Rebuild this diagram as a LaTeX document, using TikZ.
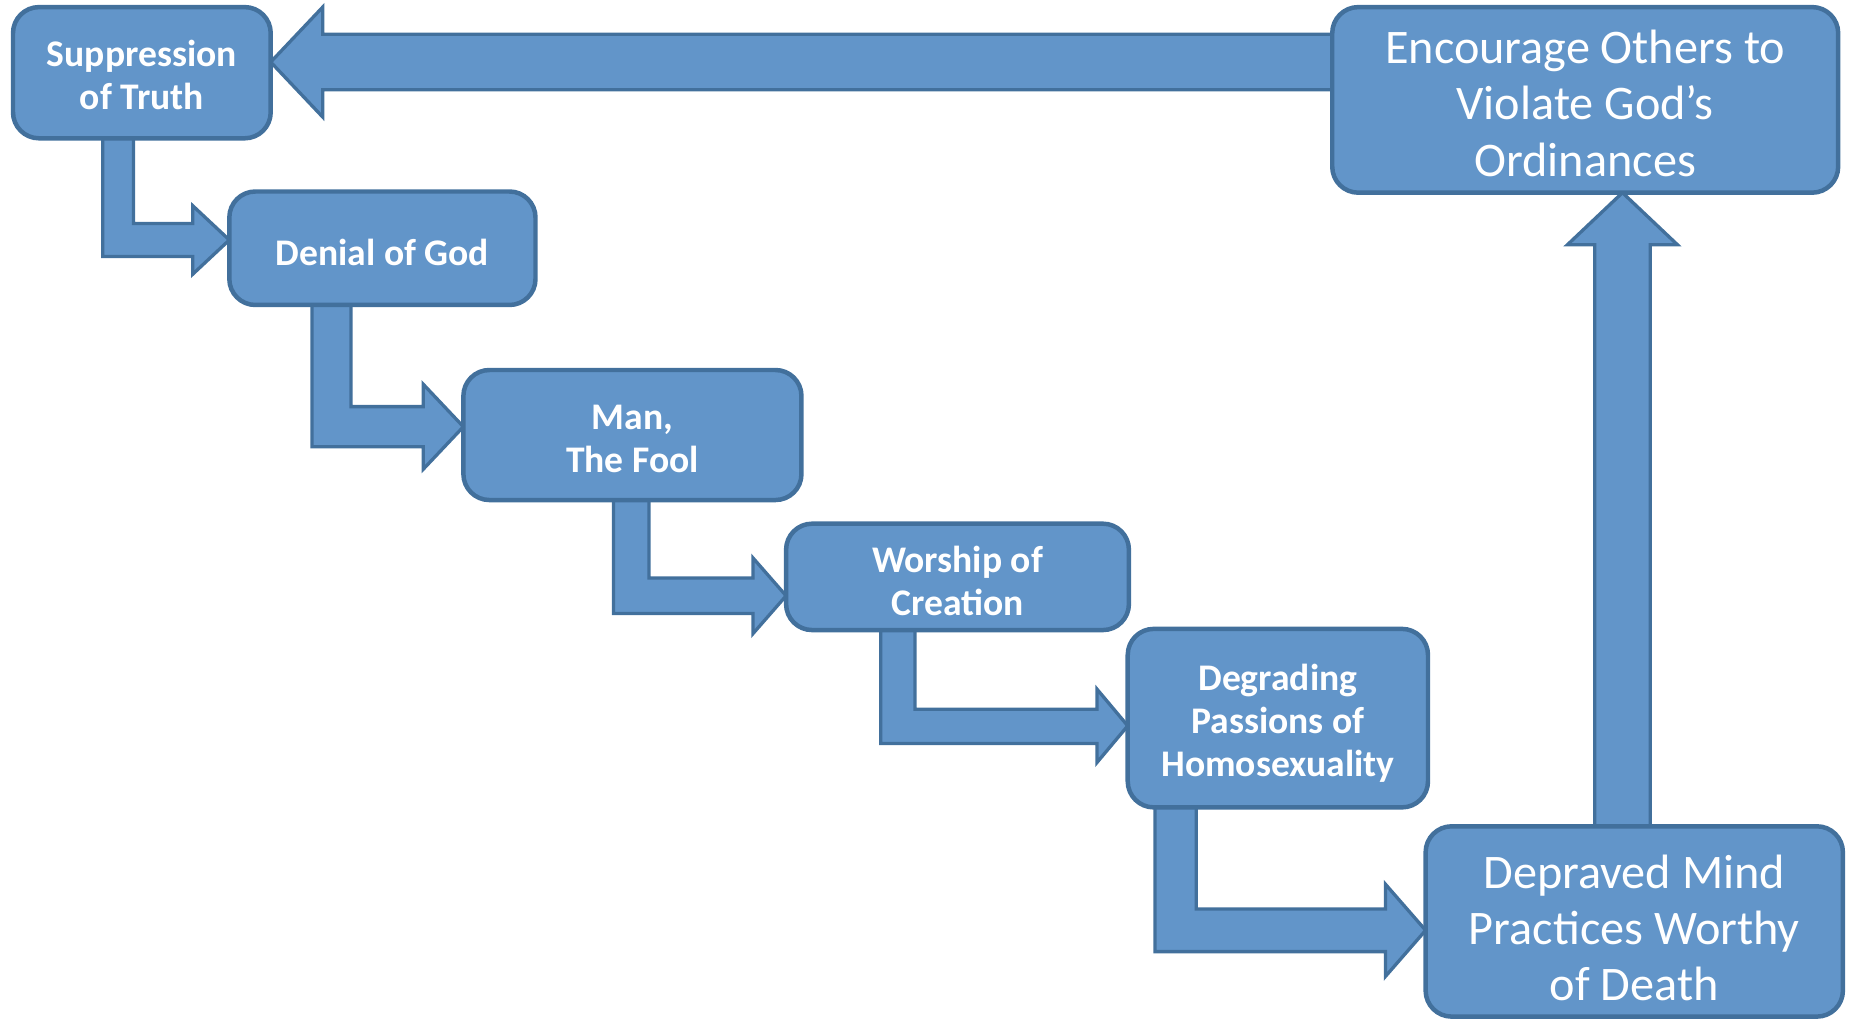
\documentclass[tikz,border=0pt]{standalone}
\usepackage{fontspec}
\setmainfont{Carlito}
\usetikzlibrary{backgrounds}
\definecolor{boxfill}{RGB}{98,149,201}
\definecolor{boxline}{RGB}{66,112,156}
\tikzset{
  x=0.5pt, y=-0.5pt,
  box/.style={draw=boxline, fill=boxfill, line width=1.9pt, rounded corners=11pt,
    outer sep=0pt, inner sep=0pt, text=white},
  smallbox/.style={box, font=\fontsize{15.9}{18.25}\selectfont\bfseries},
  bigbox/.style={box, font=\fontsize{20.4}{23.75}\selectfont},
  arrowshape/.style={draw=boxline, fill=boxfill, line width=1.4pt, line join=miter},
}
% lower the text lines visually by #1 without changing the box that TikZ centres
\newcommand\boxlines[2]{\raisebox{#1}[\height][\depth]{\begin{tabular}{@{}c@{}}#2\end{tabular}}}
% #1 from, #2 to, #3 xl, #4 xr, #5 yt, #6 yb, #7 tip y, #8 head half height, #9 head back x
\newcommand\elbowarrow[9]{%
  \draw[arrowshape] (#3,0 |- #1.center) -- (#3,#6) -- (#9,#6) -- (#9,#7+#8)
    -- (#2.west |- 0,#7) -- (#9,#7-#8) -- (#9,#5) -- (#4,#5) -- (#4,0 |- #1.center) -- cycle;}
\begin{document}
\begin{tikzpicture}
\useasboundingbox (0,0) rectangle (1565,862);
\path
  (120,61.5)   node[smallbox, minimum width=109pt, minimum height=55.5pt] (sup) {\boxlines{-3pt}{Suppression\\of Truth}}
  (323.5,210)  node[smallbox, minimum width=129.5pt, minimum height=48pt] (den) {\boxlines{-3.5pt}{Denial of God}}
  (535,368)    node[smallbox, minimum width=143pt, minimum height=55pt] (man) {\boxlines{-3.25pt}{Man,\\The Fool}}
  (810,488)    node[smallbox, minimum width=145pt, minimum height=45pt] (wor) {\boxlines{-3.5pt}{Worship of\\Creation}}
  (1081,607.5) node[smallbox, minimum width=127pt, minimum height=75.5pt] (deg) {\boxlines{-2.75pt}{Degrading\\Passions of\\Homosexuality}}
  (1382.5,779.5) node[bigbox, minimum width=176.5pt, minimum height=80.5pt] (dep) {\boxlines{-5pt}{Depraved Mind\\Practices Worthy\\of Death}}
  (1341,84.5)  node[bigbox, minimum width=214pt, minimum height=78.5pt] (enc) {\boxlines{-3.75pt}{Encourage Others to\\Violate God’s\\Ordinances}};
\begin{scope}[on background layer]
  % feedback arrow: Encourage -> Suppression
  \draw[arrowshape] (enc.center |- 0,29) -- (273,29) -- (273,6) -- (sup.east |- 0,52.5)
    -- (273,99) -- (273,76) -- (enc.center |- 0,76) -- cycle;
  % up arrow: Depraved -> Encourage
  \draw[arrowshape] (1349,0 |- dep.center) -- (1349,207) -- (1326,207) -- (1372.5,0 |- enc.south)
    -- (1419,207) -- (1396,207) -- (1396,0 |- dep.center) -- cycle;
  % elbow arrows down the staircase
  \elbowarrow{sup}{den}{87}{113}{189}{217}{203}{29}{163}
  \elbowarrow{den}{man}{264}{297}{344}{378}{361}{36}{358}
  \elbowarrow{man}{wor}{519}{549}{489}{519}{504}{32}{637}
  \elbowarrow{wor}{deg}{745}{774}{600}{629}{614}{31}{928}
  \elbowarrow{deg}{dep}{977}{1012}{769}{805}{787}{39}{1172}
\end{scope}
\end{tikzpicture}
\end{document}
